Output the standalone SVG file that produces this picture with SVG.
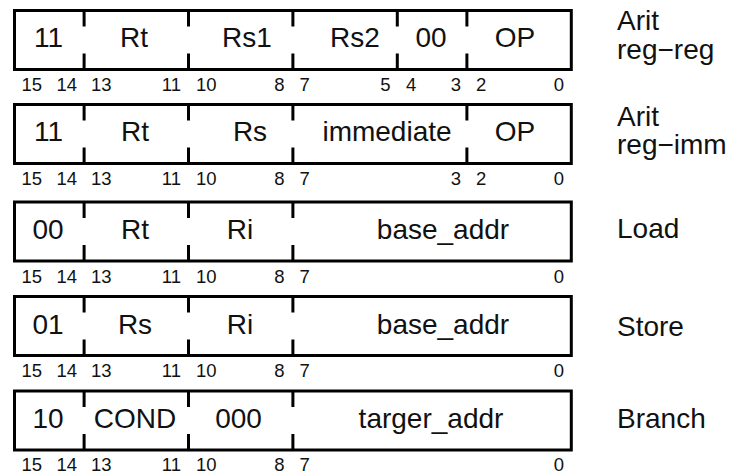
<svg xmlns="http://www.w3.org/2000/svg" width="736" height="474" viewBox="0 0 736 474">
  <style>
    .box { fill: #fff; stroke: #000; stroke-width: 3; }
    .tick { stroke: #000; stroke-width: 3; fill: none; }
    .field { font-family: "Liberation Sans", Arial, sans-serif; font-size: 28px; fill: #111; text-anchor: middle; }
    .bit { font-family: "Liberation Sans", Arial, sans-serif; font-size: 18.5px; fill: #111; }
    .hi { text-anchor: start; }
    .lo { text-anchor: end; }
    .name { font-family: "Liberation Sans", Arial, sans-serif; font-size: 28px; fill: #111; }
  </style>
  <rect width="736" height="474" fill="#fff"/>

  <!-- Arithmetic register-register format -->
  <g id="arit-reg-reg">
    <rect class="box" x="14.5" y="10.5" width="556.8" height="59"/>
    <path class="tick" d="M84.1 10.5v16M84.1 69.5v-16M188.5 10.5v16M188.5 69.5v-16M292.9 10.5v16M292.9 69.5v-16M397.3 10.5v16M397.3 69.5v-16M466.9 10.5v16M466.9 69.5v-16"/>
    <text class="field" x="48.5" y="47">11</text>
    <text class="field" x="134" y="47">Rt</text>
    <text class="field" x="247" y="47">Rs1</text>
    <text class="field" x="355" y="47">Rs2</text>
    <text class="field" x="431" y="47">00</text>
    <text class="field" x="515" y="47">OP</text>
    <text class="bit hi" x="21.5" y="91">15</text>
    <text class="bit lo" x="77" y="91">14</text>
    <text class="bit hi" x="91" y="91">13</text>
    <text class="bit lo" x="181" y="91">11</text>
    <text class="bit hi" x="196" y="91">10</text>
    <text class="bit lo" x="284.5" y="91">8</text>
    <text class="bit hi" x="299.5" y="91">7</text>
    <text class="bit lo" x="390.5" y="91">5</text>
    <text class="bit hi" x="406" y="91">4</text>
    <text class="bit lo" x="461" y="91">3</text>
    <text class="bit hi" x="476" y="91">2</text>
    <text class="bit lo" x="564" y="91">0</text>
    <text class="name" x="617" y="30">Arit</text>
    <text class="name" x="617" y="59">reg−reg</text>
  </g>

  <!-- Arithmetic register-immediate format -->
  <g id="arit-reg-imm">
    <rect class="box" x="14.5" y="104.5" width="556.8" height="59"/>
    <path class="tick" d="M84.1 104.5v16M84.1 163.5v-16M188.5 104.5v16M188.5 163.5v-16M292.9 104.5v16M292.9 163.5v-16M466.9 104.5v16M466.9 163.5v-16"/>
    <text class="field" x="48.5" y="141">11</text>
    <text class="field" x="135" y="141">Rt</text>
    <text class="field" x="250" y="141">Rs</text>
    <text class="field" x="387" y="141">immediate</text>
    <text class="field" x="515" y="141">OP</text>
    <text class="bit hi" x="21.5" y="185">15</text>
    <text class="bit lo" x="77" y="185">14</text>
    <text class="bit hi" x="91" y="185">13</text>
    <text class="bit lo" x="181" y="185">11</text>
    <text class="bit hi" x="196" y="185">10</text>
    <text class="bit lo" x="284.5" y="185">8</text>
    <text class="bit hi" x="299.5" y="185">7</text>
    <text class="bit lo" x="461" y="185">3</text>
    <text class="bit hi" x="476" y="185">2</text>
    <text class="bit lo" x="564" y="185">0</text>
    <text class="name" x="617" y="126">Arit</text>
    <text class="name" x="617" y="154">reg−imm</text>
  </g>

  <!-- Load format -->
  <g id="load">
    <rect class="box" x="14.5" y="202" width="556.8" height="59"/>
    <path class="tick" d="M84.1 202v16M84.1 261v-16M188.5 202v16M188.5 261v-16M292.9 202v16M292.9 261v-16"/>
    <text class="field" x="48" y="238.5">00</text>
    <text class="field" x="135" y="238.5">Rt</text>
    <text class="field" x="240" y="238.5">Ri</text>
    <text class="field" x="443" y="238.5">base_addr</text>
    <text class="bit hi" x="21.5" y="282.5">15</text>
    <text class="bit lo" x="77" y="282.5">14</text>
    <text class="bit hi" x="91" y="282.5">13</text>
    <text class="bit lo" x="181" y="282.5">11</text>
    <text class="bit hi" x="196" y="282.5">10</text>
    <text class="bit lo" x="284.5" y="282.5">8</text>
    <text class="bit hi" x="299.5" y="282.5">7</text>
    <text class="bit lo" x="564" y="282.5">0</text>
    <text class="name" x="617" y="238">Load</text>
  </g>

  <!-- Store format -->
  <g id="store">
    <rect class="box" x="14.5" y="296.5" width="556.8" height="59"/>
    <path class="tick" d="M84.1 296.5v16M84.1 355.5v-16M188.5 296.5v16M188.5 355.5v-16M292.9 296.5v16M292.9 355.5v-16"/>
    <text class="field" x="48" y="333.5">01</text>
    <text class="field" x="135" y="333.5">Rs</text>
    <text class="field" x="240" y="333.5">Ri</text>
    <text class="field" x="443" y="333.5">base_addr</text>
    <text class="bit hi" x="21.5" y="377">15</text>
    <text class="bit lo" x="77" y="377">14</text>
    <text class="bit hi" x="91" y="377">13</text>
    <text class="bit lo" x="181" y="377">11</text>
    <text class="bit hi" x="196" y="377">10</text>
    <text class="bit lo" x="284.5" y="377">8</text>
    <text class="bit hi" x="299.5" y="377">7</text>
    <text class="bit lo" x="564" y="377">0</text>
    <text class="name" x="617" y="336">Store</text>
  </g>

  <!-- Branch format -->
  <g id="branch">
    <rect class="box" x="14.5" y="391" width="556.8" height="59"/>
    <path class="tick" d="M84.1 391v16M84.1 450v-16M188.5 391v16M188.5 450v-16M292.9 391v16M292.9 450v-16"/>
    <text class="field" x="48" y="428">10</text>
    <text class="field" x="135" y="428">COND</text>
    <text class="field" x="238.5" y="428">000</text>
    <text class="field" x="431" y="428">targer_addr</text>
    <text class="bit hi" x="21.5" y="471">15</text>
    <text class="bit lo" x="77" y="471">14</text>
    <text class="bit hi" x="91" y="471">13</text>
    <text class="bit lo" x="181" y="471">11</text>
    <text class="bit hi" x="196" y="471">10</text>
    <text class="bit lo" x="284.5" y="471">8</text>
    <text class="bit hi" x="299.5" y="471">7</text>
    <text class="bit lo" x="564" y="471">0</text>
    <text class="name" x="617" y="428">Branch</text>
  </g>
</svg>
